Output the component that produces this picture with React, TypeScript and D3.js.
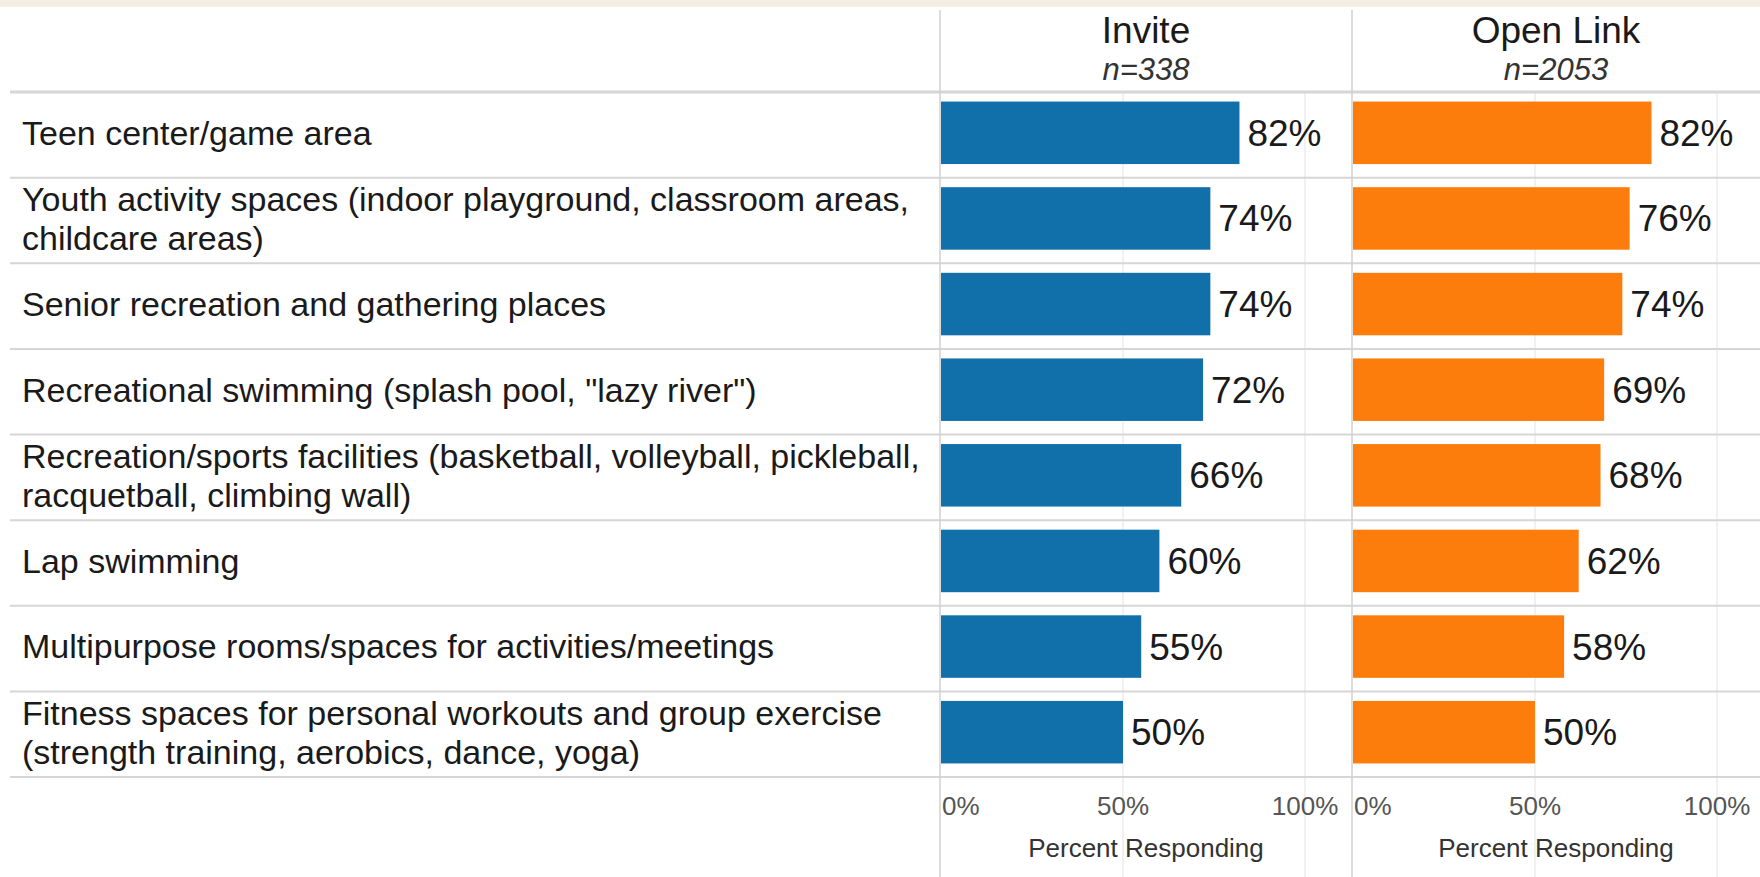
import React, {useEffect, useRef} from 'react';
import * as d3 from 'd3';

// categories (each entry is the wrapped lines of the row label)
const categories: string[][] = [
  ["Teen center/game area"],
  ["Youth activity spaces (indoor playground, classroom areas,", "childcare areas)"],
  ["Senior recreation and gathering places"],
  ["Recreational swimming (splash pool, \"lazy river\")"],
  ["Recreation/sports facilities (basketball, volleyball, pickleball,", "racquetball, climbing wall)"],
  ["Lap swimming"],
  ["Multipurpose rooms/spaces for activities/meetings"],
  ["Fitness spaces for personal workouts and group exercise", "(strength training, aerobics, dance, yoga)"],
];

const inviteValues: number[] = [0.82, 0.74, 0.74, 0.72, 0.66, 0.60, 0.55, 0.50];
const openLinkValues: number[] = [0.82, 0.76, 0.74, 0.69, 0.68, 0.62, 0.58, 0.50];

const panelTitles: string[] = ["Invite", "Open Link"];
const panelCounts: string[] = ["n=338", "n=2053"];
const tickValues: number[] = [0, 0.5, 1];

const App = () => {
  const ref = useRef<SVGSVGElement | null>(null);

  useEffect(() => {
    drawChart();
    return () => {
      d3.select(ref.current).selectAll("*").remove();
    };
  }, []);

  const drawChart = () => {
    const width = 1760;
    const height = 877;
    const font = "'Liberation Sans', Arial, sans-serif";

    const svg = d3.select(ref.current);

    // beige strip along the top
    svg.append("rect")
      .attr("x", 0).attr("y", 0)
      .attr("width", width).attr("height", 7)
      .attr("fill", "#f3ede2");

    // row layout
    const rowTop = 92;
    const rowBottom = 777;
    const ids = categories.map((_, i) => String(i));
    const y = d3.scaleBand<string>()
      .domain(ids)
      .range([rowTop, rowBottom])
      .paddingInner(0.27)
      .paddingOuter(0.135);
    const rowStep = y.step();
    const barShift = -2; // bars sit a touch above row center

    const panels = [
      {left: 940, right: 1352, values: inviteValues, color: "#1170aa"},
      {left: 1352, right: 1760, values: openLinkValues, color: "#fc7d0b"},
    ];
    const xScales = panels.map(p => d3.scaleLinear().domain([0, 1]).range([p.left + 1, p.left + 365]));

    // gridlines
    panels.forEach((p, pi) => {
      svg.append("g")
        .selectAll("line")
        .data(tickValues.slice(1))
        .enter().append("line")
        .attr("x1", d => xScales[pi](d)).attr("x2", d => xScales[pi](d))
        .attr("y1", rowTop).attr("y2", height)
        .attr("stroke", "#ececec")
        .attr("stroke-width", 1.5);
    });

    // row separators
    svg.append("g")
      .selectAll("line")
      .data(d3.range(categories.length + 1))
      .enter().append("line")
      .attr("x1", 10).attr("x2", width)
      .attr("y1", i => rowTop + i * rowStep).attr("y2", i => rowTop + i * rowStep)
      .attr("stroke", "#d6d6d6")
      .attr("stroke-width", (i: number) => (i === 0 ? 3 : 2));

    // panel dividers
    svg.append("g")
      .selectAll("line")
      .data(panels)
      .enter().append("line")
      .attr("x1", p => p.left).attr("x2", p => p.left)
      .attr("y1", 10).attr("y2", height)
      .attr("stroke", "#d0d0d0")
      .attr("stroke-width", 1.5);

    // category labels
    const lineGap = 39;
    const labels = svg.append("g")
      .selectAll("text")
      .data(categories)
      .enter().append("text")
      .attr("x", 22)
      .attr("font-family", font)
      .attr("font-size", "34px")
      .attr("fill", "#1a1a1a");
    labels.each(function (lines, i) {
      const cy = (y(String(i)) as number) + y.bandwidth() / 2 + barShift;
      const firstY = cy - ((lines.length - 1) * lineGap) / 2;
      d3.select(this).selectAll("tspan")
        .data(lines)
        .enter().append("tspan")
        .attr("x", 22)
        .attr("y", (_, j) => firstY + j * lineGap)
        .attr("dy", "0.35em")
        .text(d => d);
    });

    panels.forEach((p, pi) => {
      const x = xScales[pi];
      const cx = (p.left + p.right) / 2;

      // header
      svg.append("text")
        .attr("x", cx).attr("y", 43)
        .attr("text-anchor", "middle")
        .attr("font-family", font)
        .attr("font-size", "37px")
        .attr("fill", "#1a1a1a")
        .text(panelTitles[pi]);
      svg.append("text")
        .attr("x", cx).attr("y", 80)
        .attr("text-anchor", "middle")
        .attr("font-family", font)
        .attr("font-size", "31px")
        .attr("font-style", "italic")
        .attr("fill", "#333")
        .text(panelCounts[pi]);

      // bars
      svg.append("g")
        .selectAll("rect")
        .data(p.values)
        .enter().append("rect")
        .attr("x", x(0))
        .attr("y", (_, i) => (y(String(i)) as number) + barShift)
        .attr("width", d => x(d) - x(0))
        .attr("height", y.bandwidth())
        .attr("fill", p.color);

      // value labels
      svg.append("g")
        .selectAll("text")
        .data(p.values)
        .enter().append("text")
        .attr("x", d => x(d) + 8)
        .attr("y", (_, i) => (y(String(i)) as number) + y.bandwidth() / 2 + barShift)
        .attr("dy", "0.35em")
        .attr("font-family", font)
        .attr("font-size", "37px")
        .attr("fill", "#1a1a1a")
        .text(d => d3.format(".0%")(d));

      // axis ticks
      svg.append("g")
        .selectAll("text")
        .data(tickValues)
        .enter().append("text")
        .attr("x", d => (d === 0 ? x(d) + 1 : x(d)))
        .attr("y", 815)
        .attr("text-anchor", d => (d === 0 ? "start" : "middle"))
        .attr("font-family", font)
        .attr("font-size", "26px")
        .attr("fill", "#555")
        .text(d => d3.format(".0%")(d));

      svg.append("text")
        .attr("x", cx).attr("y", 857)
        .attr("text-anchor", "middle")
        .attr("font-family", font)
        .attr("font-size", "26px")
        .attr("fill", "#333")
        .text("Percent Responding");
    });
  };

  return (
    <svg
      ref={ref}
      width={1760}
      height={877}
      style={{position: "absolute", left: 0, top: 0, background: "#fff"}}
    />
  );
};

export default App;
